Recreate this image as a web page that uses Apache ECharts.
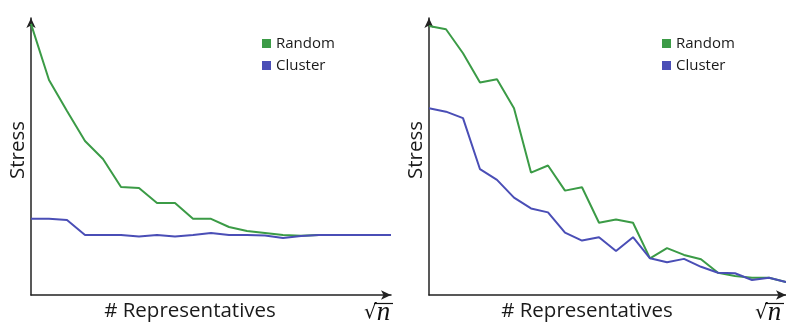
<!DOCTYPE html>
<html><head><meta charset="utf-8">
<script src="https://cdn.jsdelivr.net/npm/echarts/dist/echarts.min.js"></script>
<style>html,body{margin:0;padding:0;background:#fff}#c{width:786px;height:324px}</style>
</head><body><div id="c"></div>
<script>
// ---- data (stress, arbitrary units; 0 = x axis) ----
const leftSteps = [1,2,3,4,5,6,7,8,9,10,11,12,13,14,15,16,17,18,19,20,21];
const leftRandom  = [96.1,76.2,65.2,54.6,48.2,38.3,37.9,32.6,32.6,27.0,27.0,24.1,22.7,22.0,21.3,21.0,21.3,21.3,21.3,21.3,21.3];
const leftCluster = [27.0,27.0,26.6,21.3,21.3,21.3,20.7,21.3,20.7,21.3,22.0,21.3,21.3,21.1,20.2,20.9,21.3,21.3,21.3,21.3,21.3];

const rightSteps = [1,2,3,4,5,6,7,8,9,10,11,12,13,14,15,16,17,18,19,20,21,22];
const rightRandom  = [95.4,94.2,85.7,75.3,76.5,66.2,43.4,45.9,37.0,38.2,25.6,26.8,25.6,13.0,16.6,14.2,12.7,7.9,6.7,6.1,6.1,4.6];
const rightCluster = [66.2,65.0,62.7,44.6,40.8,34.5,30.7,29.3,22.1,19.3,20.5,15.6,20.5,13.0,11.6,12.8,10.0,7.9,7.7,5.3,6.1,4.6];

const seriesNames = ['Random','Cluster'];
const yTitle = 'Stress';
const xTitle = '# Representatives';

// ---- styling ----
const GREEN = '#3b9b46', BLUE = '#4a4eb6', AXIS = '#222';
const FONT = "'Open Sans', 'Noto Sans', sans-serif";

function axisLine() {
  return { show: true, onZero: false, symbol: ['none','arrow'], symbolSize: [7,10],
           lineStyle: { color: AXIS, width: 1.5 } };
}
function xAx(grid, cats) {
  return { type: 'category', gridIndex: grid, data: cats, boundaryGap: false,
           axisLine: axisLine(), axisTick: {show:false}, axisLabel: {show:false}, splitLine: {show:false} };
}
function yAx(grid) {
  return { type: 'value', gridIndex: grid, min: 0, max: 98.2,
           axisLine: axisLine(), axisTick: {show:false}, axisLabel: {show:false}, splitLine: {show:false} };
}
function line(name, grid, data, color) {
  return { name, type: 'line', xAxisIndex: grid, yAxisIndex: grid, data, symbol: 'none',
           itemStyle: {color}, lineStyle: {color, width: 2}, emphasis: {disabled: true} };
}
function legend(left) {
  return { orient: 'vertical', left, top: 31, icon: 'rect', itemWidth: 9, itemHeight: 9, itemGap: 7,
           data: seriesNames, selectedMode: false,
           textStyle: { fontFamily: FONT, fontSize: 15, color: '#1a1a1a', padding: [0,0,0,0] } };
}
function title(x, y, text, rot) {
  return { type: 'text', x, y, rotation: rot || 0,
           style: { text, fill: '#1a1a1a', font: '20.5px ' + FONT, align: 'center', verticalAlign: 'middle',
                    textAlign: 'center', textVerticalAlign: 'middle' } };
}
function sqrtN(x) {
  return { type: 'text', x, y: 313,
           style: { text: '{r|√}{n|n}', fill: '#111', verticalAlign: 'middle', textVerticalAlign: 'middle',
                    rich: { r: { fontFamily: 'DejaVu Serif', fontSize: 20, fill: '#111' },
                            n: { fontFamily: 'Liberation Serif', fontStyle: 'italic', fontSize: 27, fill: '#111' } } } };
}
function vinculum(x) {
  return { type: 'line', shape: { x1: x, y1: 303.5, x2: x + 19, y2: 303.5 },
           style: { stroke: '#111', lineWidth: 1.2 } };
}

const chart = echarts.init(document.getElementById('c'), null, {renderer: 'canvas'});
chart.setOption({
  animation: false,
  backgroundColor: '#fff',
  grid: [
    { left: 31, right: 395, top: 18, bottom: 29 },
    { left: 429, right: 0, top: 18, bottom: 29 }
  ],
  xAxis: [xAx(0, leftSteps), xAx(1, rightSteps)],
  yAxis: [yAx(0), yAx(1)],
  legend: [legend(257), legend(657)],
  series: [
    line(seriesNames[0], 0, leftRandom, GREEN),
    line(seriesNames[1], 0, leftCluster, BLUE),
    line(seriesNames[0], 1, rightRandom, GREEN),
    line(seriesNames[1], 1, rightCluster, BLUE)
  ],
  graphic: [
    title(18.5, 150, yTitle, Math.PI/2),
    title(416, 150, yTitle, Math.PI/2),
    title(190, 311, xTitle),
    title(587, 311, xTitle),
    sqrtN(364),
    sqrtN(755),
    vinculum(374),
    vinculum(765)
  ]
});
</script></body></html>
